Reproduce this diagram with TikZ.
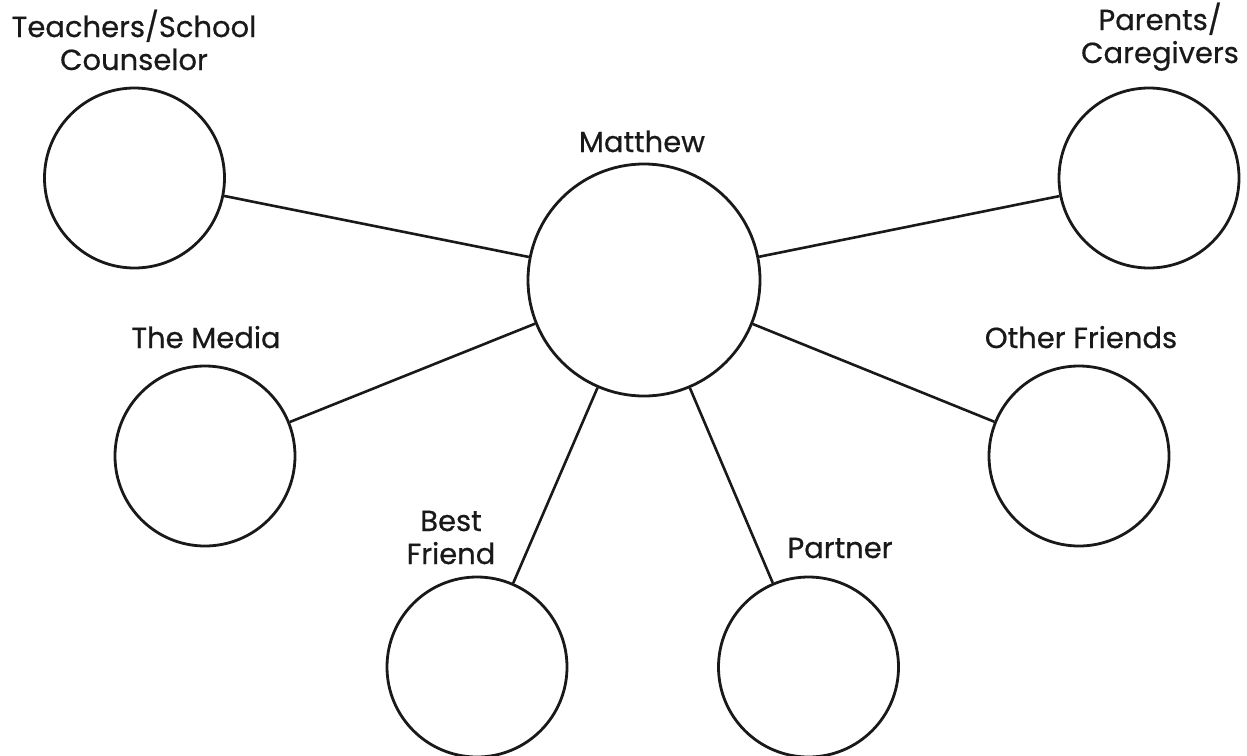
\documentclass[tikz,border=0pt]{standalone}
\usepackage{fontspec}
\setmainfont{Poppins}[FakeBold=0.6]
\begin{document}
\begin{tikzpicture}[x=1pt,y=-1pt,
  bub/.style={draw=black!90,line width=2.8pt,circle,inner sep=0pt,minimum size=180pt},
  big/.style={bub,minimum size=232pt},
  lab/.style={anchor=base,align=center,inner sep=0pt,text=black!90,font=\fontsize{29}{33}\selectfont},
  link/.style={draw=black!90,line width=2.6pt}]
\useasboundingbox (0,0) rectangle (1247,755);
\node[big] (m) at (644,280) {};
\node[bub] (t) at (134.5,178) {};
\node[bub] (p) at (1149,178) {};
\node[bub] (md) at (205,456) {};
\node[bub] (of) at (1079,456) {};
\node[bub] (bf) at (477,667) {};
\node[bub] (pt) at (808.5,667) {};
\draw[link] (t) -- (m);
\draw[link] (p) -- (m);
\draw[link] (md) -- (m);
\draw[link] (of) -- (m);
\draw[link] (bf) -- (m);
\draw[link] (pt) -- (m);
\node[lab] (lm) at (642,152) {Matthew};
\node[lab] (lt) at (134,70) {Teachers/School\\Counselor};
\node[lab] (lp) at (1160,63) {Parents/\\Caregivers};
\node[lab] (lmd) at (206,348) {The Media};
\node[lab] (lof) at (1081,348) {Other Friends};
\node[lab] (lbf) at (451,564) {Best\\Friend};
\node[lab] (lpt) at (840,558) {Partner};
\end{tikzpicture}
\end{document}
